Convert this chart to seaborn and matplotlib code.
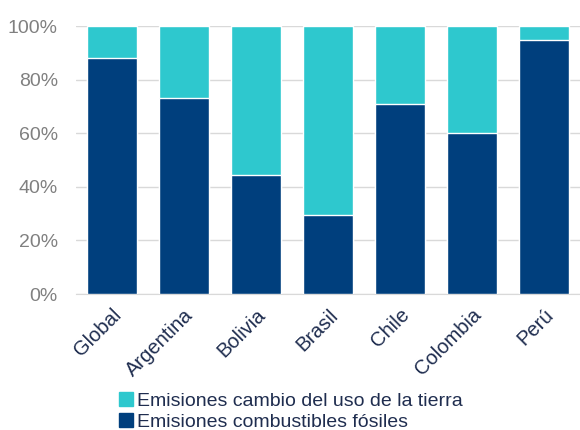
import matplotlib
matplotlib.use("Agg")
import matplotlib.pyplot as plt
import matplotlib.transforms as mtransforms
import seaborn as sns
import numpy as np
from matplotlib.patches import Patch
from matplotlib.ticker import FixedLocator

paises = ["Global", "Argentina", "Bolivia", "Brasil", "Chile", "Colombia", "Perú"]
fosiles = [88.1, 73.3, 44.6, 29.6, 70.8, 60.0, 94.6]
uso_tierra = [100 - v for v in fosiles]
total = [f + u for f, u in zip(fosiles, uso_tierra)]

color_fosil = "#003F7D"
color_tierra = "#2EC8CE"

sns.set_style("white")
plt.rcParams['font.family'] = ['Liberation Sans', 'DejaVu Sans']

fig = plt.figure(figsize=(5.8, 4.3), dpi=100)
ax = fig.add_axes([0.131, 0.316, 0.869, 0.6235])

sns.barplot(x=paises, y=total, color=color_tierra, width=0.69, saturation=1, ax=ax, zorder=3)
sns.barplot(x=paises, y=fosiles, color=color_fosil, width=0.69, saturation=1, ax=ax, zorder=3)

ax.set_xlim(-0.5, len(paises) - 0.5)
ax.set_ylim(0, 100)
ax.set_yticks(np.arange(0, 101, 20))
ax.set_yticklabels(["{}%".format(v) for v in range(0, 101, 20)], fontsize=14, color="#808080")
ax.yaxis.grid(True, color="#D9D9D9", linewidth=1, zorder=0)
ax.set_axisbelow(True)

ax.set_xticks(range(len(paises)))
ax.set_xticklabels(paises, rotation=45, ha="right", rotation_mode="anchor",
                   fontsize=14.5, color="#1F2D4F")
shift = mtransforms.ScaledTranslation(-4 / 100, 0, fig.dpi_scale_trans)
for lbl in ax.get_xticklabels():
    lbl.set_transform(lbl.get_transform() + shift)
ax.tick_params(axis="x", which="major", length=0, pad=8)
ax.tick_params(axis="y", length=0, pad=13)
ax.xaxis.set_minor_locator(FixedLocator(np.arange(-0.5, len(paises), 1)))
ax.tick_params(axis="x", which="minor", length=5, color="#D9D9D9", width=1)

for s in ["top", "right", "left"]:
    ax.spines[s].set_visible(False)
ax.spines["bottom"].set_color("#D9D9D9")
ax.set_xlabel("")
ax.set_ylabel("")

handles = [Patch(color=color_tierra, label="Emisiones cambio del uso de la tierra"),
           Patch(color=color_fosil, label="Emisiones combustibles fósiles")]
leg = fig.legend(handles=handles, loc="center left", bbox_to_anchor=(0.205, 0.043),
                 frameon=False, fontsize=14, handlelength=0.75, handleheight=0.75,
                 handletextpad=0.2, labelspacing=0.15, borderaxespad=0, borderpad=0)
for t in leg.get_texts():
    t.set_color("#1F2D4F")

fig.savefig("out.png", dpi=100)
